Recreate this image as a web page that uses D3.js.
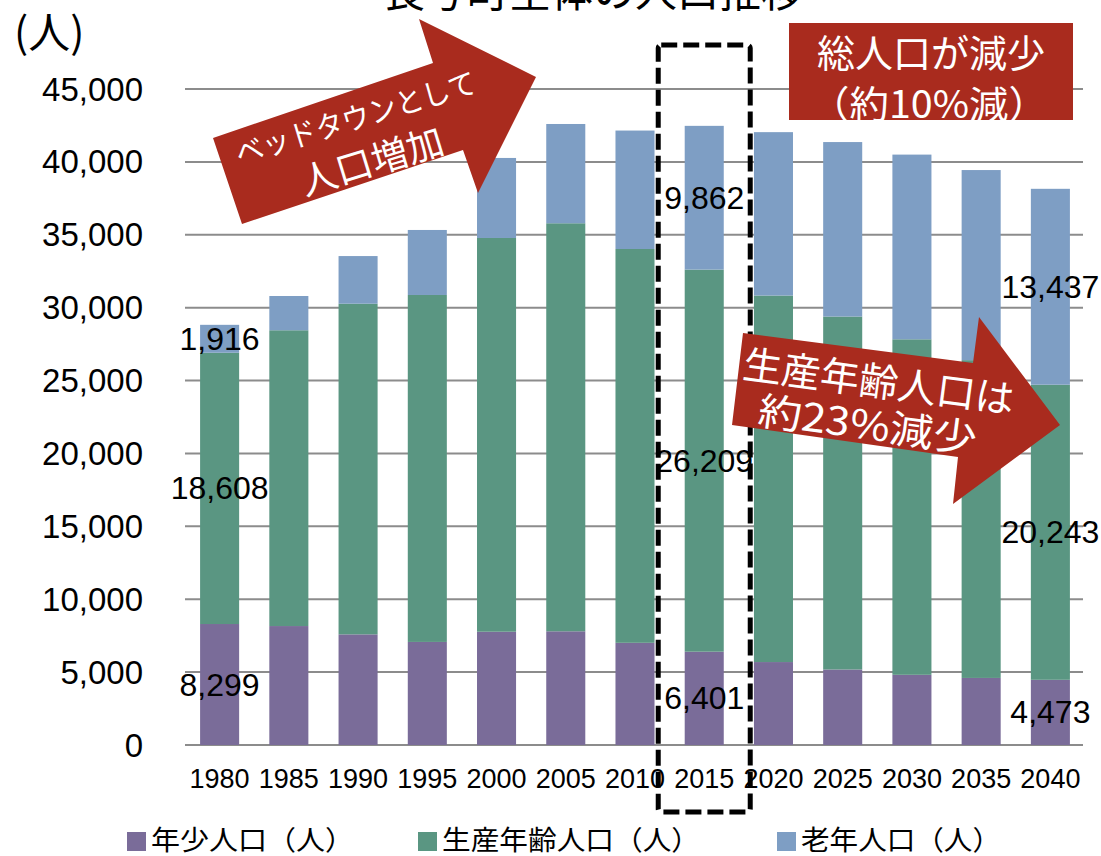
<!DOCTYPE html>
<html><head><meta charset="utf-8">
<script src="https://cdn.jsdelivr.net/npm/d3@7"></script>
<style>
body{margin:0;background:#fff;}
svg{display:block;}
</style></head>
<body>
<svg id="chart" width="1101" height="856"></svg>
<script>
const years = [1980,1985,1990,1995,2000,2005,2010,2015,2020,2025,2030,2035,2040];
const young = [8299,8160,7590,7070,7770,7800,7010,6401,5690,5180,4815,4600,4473];
const working = [18608,20290,22680,23800,27010,27990,27015,26209,25140,24210,23015,21800,20243];
const old = [1916,2350,3270,4460,5490,6810,8125,9862,11210,11970,12670,13040,13437];
const seriesNames = ["年少人口（人）","生産年齢人口（人）","老年人口（人）"];
const seriesColors = ["#7a6c99","#5a9682","#7e9ec4"];
const yTicks = [0,5000,10000,15000,20000,25000,30000,35000,40000,45000];
const labelYears = [1980,2015,2040];
const titleText = "長与町全体の人口推移";
const unitText = "(人)";

const JP = "'Noto Sans CJK JP','Noto Sans',sans-serif";
const LAT = "'Liberation Sans',Arial,sans-serif";
const RED = "#a92b1e";

const svg = d3.select("#chart");
const x = d3.scaleBand().domain(years).range([185,1085]).paddingInner(0.436).paddingOuter(0.218);
const y = d3.scaleLinear().domain([0,45000]).range([745,89]);

// title (clipped at top, as in the reference)
svg.append("text").attr("x",593).attr("y",7).attr("text-anchor","middle")
  .attr("font-family",JP).attr("font-size",42).attr("fill","#000").text(titleText);
svg.append("text").attr("x",14).attr("y",29).attr("dominant-baseline","central")
  .attr("font-family",JP).attr("font-size",42).attr("fill","#000").text(unitText);

// gridlines
svg.append("g").selectAll("line").data(yTicks).join("line")
  .attr("x1",185).attr("x2",1083).attr("y1",d=>y(d)).attr("y2",d=>y(d))
  .attr("stroke","#8c8c8c").attr("stroke-width",2);

// y tick labels
svg.append("g").selectAll("text").data(yTicks).join("text")
  .attr("x",143).attr("y",d=>y(d)).attr("text-anchor","end").attr("dominant-baseline","central")
  .attr("font-family",LAT).attr("font-size",33).attr("fill","#000")
  .text(d=>d3.format(",")(d));

// stacked data
const table = years.map((yr,i)=>({year:yr, young:young[i], working:working[i], old:old[i]}));
const keys = ["young","working","old"];
const stack = d3.stack().keys(keys)(table);

svg.append("g").selectAll("g").data(stack).join("g")
  .attr("fill",(d,i)=>seriesColors[i])
  .selectAll("rect").data(d=>d).join("rect")
  .attr("x",d=>x(d.data.year)).attr("width",x.bandwidth())
  .attr("y",d=>y(d[1])).attr("height",d=>y(d[0])-y(d[1]));

// data labels
const lab = svg.append("g");
stack.forEach(s=>{
  s.forEach(d=>{
    if(!labelYears.includes(d.data.year)) return;
    lab.append("text").attr("x",x(d.data.year)+x.bandwidth()/2).attr("y",(y(d[0])+y(d[1]))/2)
      .attr("text-anchor","middle").attr("dominant-baseline","central")
      .attr("font-family",LAT).attr("font-size",32).attr("fill","#000")
      .text(d3.format(",")(d.data[s.key]));
  });
});

// x labels
svg.append("g").selectAll("text").data(years).join("text")
  .attr("x",d=>x(d)+x.bandwidth()/2).attr("y",788).attr("text-anchor","middle")
  .attr("font-family",LAT).attr("font-size",27).attr("fill","#000").text(d=>d);

// dashed highlight box around 2015
const cx15 = x(2015)+x.bandwidth()/2;
svg.append("rect").attr("x",cx15-46).attr("y",45).attr("width",92).attr("height",767)
  .attr("fill","none").attr("stroke","#000").attr("stroke-width",5)
  .attr("stroke-dasharray","16,6").attr("rx",3);

// left arrow
svg.append("polygon").attr("points","213,138 433,63 419,19 536,77 478,193 463,150 242,224").attr("fill",RED);
svg.append("text").attr("transform","translate(355,116) rotate(-17)")
  .attr("text-anchor","middle").attr("dominant-baseline","central")
  .attr("font-family",JP).attr("font-size",30).attr("fill","#fff")
  .attr("textLength",250).attr("lengthAdjust","spacingAndGlyphs").text("ベッドタウンとして");
svg.append("text").attr("transform","translate(371,159) rotate(-17)")
  .attr("text-anchor","middle").attr("dominant-baseline","central")
  .attr("font-family",JP).attr("font-size",37).attr("fill","#fff").text("人口増加");

// box
svg.append("rect").attr("x",789).attr("y",23).attr("width",284).attr("height",97).attr("fill",RED);
svg.append("text").attr("x",931).attr("y",50).attr("text-anchor","middle").attr("dominant-baseline","central")
  .attr("font-family",JP).attr("font-size",38).attr("fill","#fff").text("総人口が減少");
svg.append("text").attr("x",929).attr("y",101).attr("text-anchor","middle").attr("dominant-baseline","central")
  .attr("font-family",JP).attr("font-size",38).attr("fill","#fff")
  .attr("textLength",238).attr("lengthAdjust","spacingAndGlyphs").text("（約10%減）");

// right arrow
svg.append("polygon").attr("points","743,333 973,363 979,317 1060,425 953,504 958,457 732,425").attr("fill",RED);
svg.append("text").attr("transform","translate(879,379) rotate(7.6)")
  .attr("text-anchor","middle").attr("dominant-baseline","central")
  .attr("font-family",JP).attr("font-size",39).attr("fill","#fff").text("生産年齢人口は");
svg.append("text").attr("transform","translate(868,422) rotate(7.6)")
  .attr("text-anchor","middle").attr("dominant-baseline","central")
  .attr("font-family",JP).attr("font-size",39).attr("fill","#fff")
  .attr("textLength",220).attr("lengthAdjust","spacingAndGlyphs").text("約23%減少");

// legend
const legX = [127,418,777];
const legW = [203,258,200];
const lg = svg.append("g");
seriesNames.forEach((n,i)=>{
  lg.append("rect").attr("x",legX[i]).attr("y",832).attr("width",19).attr("height",19).attr("fill",seriesColors[i]);
  lg.append("text").attr("x",legX[i]+24).attr("y",838).attr("dominant-baseline","central")
    .attr("font-family",JP).attr("font-size",27).attr("fill","#000")
    .attr("textLength",legW[i]).attr("lengthAdjust","spacingAndGlyphs").text(n);
});
</script>
</body></html>
